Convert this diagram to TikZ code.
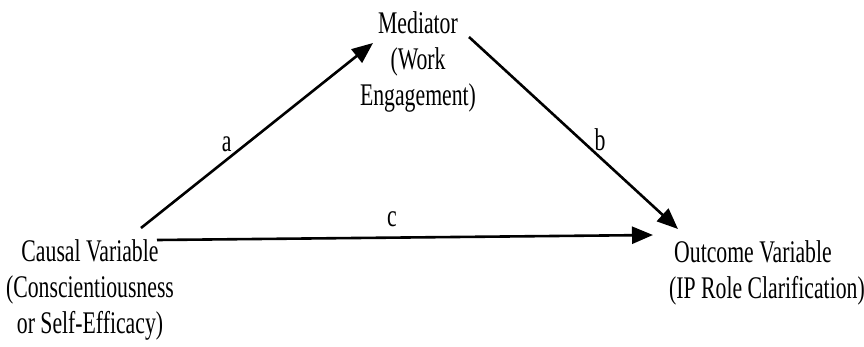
\documentclass[tikz,border=0pt]{standalone}
\usepackage{fontspec}
\setmainfont{Liberation Serif}[FakeStretch=0.69]
\usetikzlibrary{arrows.meta}
\tikzset{
  varlabel/.style={inner sep=0pt, anchor=base, font=\fontsize{31.5}{36}\selectfont},
  pathlabel/.style={inner sep=0pt, anchor=base, font=\fontsize{31.5}{36}\selectfont},
  effect/.style={line width=2.6pt, -{Triangle[length=21pt,width=17pt]}}
}
\begin{document}
\begin{tikzpicture}[x=1pt,y=-1pt]
  \useasboundingbox (0,0) rectangle (864,346);
  % the three variables (placed by the baseline of their last line)
  \node[varlabel, align=center] (med) at (418,105.7) {Mediator\\(Work\\Engagement)};
  \node[varlabel, align=center] (cause) at (90,333.3) {Causal Variable\\(Conscientiousness\\or Self-Efficacy)};
  \node[varlabel, align=left, anchor=base west] (out) at (669,298.3) {\hspace{5pt}Outcome Variable\\(IP Role Clarification)};
  % arrow end points next to the variables
  \coordinate (a-tail) at (141,228);
  \coordinate (a-head) at (373,43);
  \coordinate (b-tail) at (469,37);
  \coordinate (b-head) at (678,229);
  \coordinate (c-tail) at (157,240);
  \coordinate (c-head) at (653,235);
  % paths
  \draw[effect] (a-tail) -- (a-head);
  \draw[effect] (b-tail) -- (b-head);
  \draw[effect] (c-tail) -- (c-head);
  \node[pathlabel] (la) at (226.7,151.7) {a};
  \node[pathlabel] (lb) at (600,150) {b};
  \node[pathlabel] (lc) at (392,226.5) {c};
\end{tikzpicture}
\end{document}
